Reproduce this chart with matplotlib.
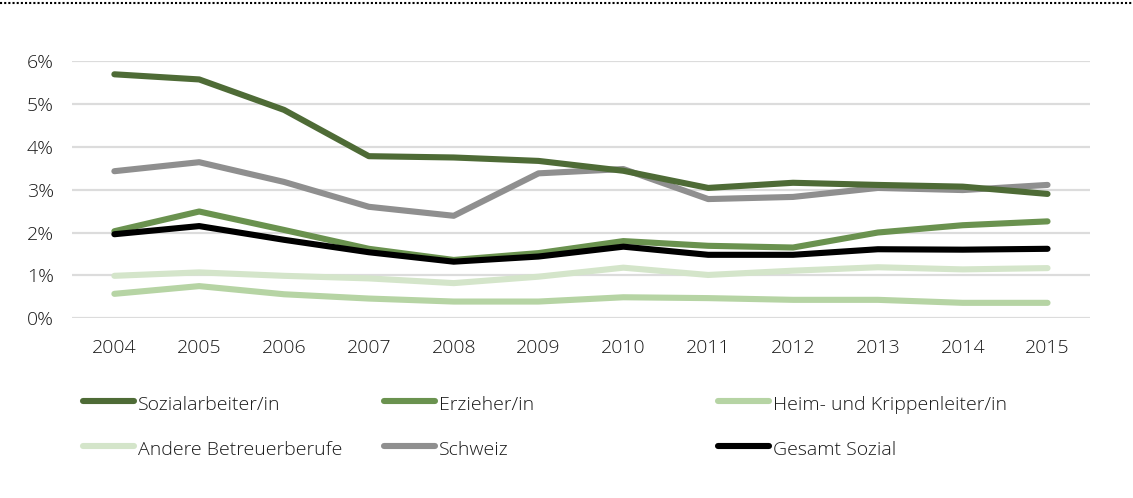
import numpy as np
import matplotlib
matplotlib.use('Agg')
import matplotlib.pyplot as plt
from matplotlib.lines import Line2D
from matplotlib.ticker import PercentFormatter

plt.rcParams['font.family'] = ['Open Sans', 'DejaVu Sans']
plt.rcParams['font.weight'] = 'light'

# Daten (Anteile in %)
years = ['2004', '2005', '2006', '2007', '2008', '2009',
         '2010', '2011', '2012', '2013', '2014', '2015']
sozialarbeiter = [5.69, 5.57, 4.86, 3.78, 3.75, 3.67, 3.44, 3.04, 3.16, 3.11, 3.07, 2.90]
erzieher = [2.03, 2.49, 2.06, 1.62, 1.36, 1.52, 1.80, 1.69, 1.65, 2.00, 2.17, 2.26]
heimleiter = [0.57, 0.75, 0.56, 0.46, 0.39, 0.39, 0.49, 0.47, 0.43, 0.43, 0.36, 0.36]
andere = [0.99, 1.07, 0.99, 0.93, 0.82, 0.97, 1.18, 1.01, 1.11, 1.19, 1.14, 1.17]
schweiz = [3.43, 3.64, 3.18, 2.60, 2.39, 3.38, 3.48, 2.78, 2.83, 3.04, 2.99, 3.11]
gesamt = [1.96, 2.15, 1.83, 1.54, 1.32, 1.44, 1.67, 1.48, 1.48, 1.61, 1.60, 1.62]

names = ['Sozialarbeiter/in', 'Erzieher/in', 'Heim- und Krippenleiter/in',
         'Andere Betreuerberufe', 'Schweiz', 'Gesamt Sozial']
series = [sozialarbeiter, erzieher, heimleiter, andere, schweiz, gesamt]
colors = ['#4e6b36', '#6a924f', '#b6d4a4', '#d4e5ca', '#8f8f8f', '#000000']
# Zeichenreihenfolge (hellste zuerst, Gesamt oben)
order = [3, 2, 4, 1, 0, 5]

fig = plt.figure(figsize=(11.33, 4.98), dpi=100)
ax = fig.add_axes([0.0635, 0.3609, 0.8985, 0.5166])

x = np.arange(len(years))
for i in order:
    ax.plot(x, series[i], color=colors[i], lw=4.4,
            solid_capstyle='round', solid_joinstyle='round', zorder=3)

ax.set_xlim(-0.5, len(years) - 0.5)
ax.set_ylim(0, 6)
ax.set_yticks(np.arange(0, 7, 1))
ax.yaxis.set_major_formatter(PercentFormatter(decimals=0))
ax.set_xticks(x)
ax.set_xticklabels(years)
ax.grid(axis='y', color='#dcdcdc', lw=1.6, zorder=0)
ax.set_axisbelow(True)
for s in ax.spines.values():
    s.set_visible(False)
ax.tick_params(axis='both', length=0, labelsize=14, colors='#1a1a1a')
ax.tick_params(axis='y', pad=13)
ax.tick_params(axis='x', pad=15)

# Legende manuell (3 Spalten, 2 Zeilen)
W, H = 1133, 498
col_x = [83, 384, 718]
row_y = [401, 446]
for k, name in enumerate(names):
    r, c = divmod(k, 3)
    x0 = col_x[c] / W
    y0 = 1 - row_y[r] / H
    fig.add_artist(Line2D([x0, x0 + 51 / W], [y0, y0], color=colors[k], lw=4.4,
                          solid_capstyle='round', transform=fig.transFigure))
    fig.text(x0 + 55 / W, y0 - 4 / H, name, fontsize=14, va='center',
             ha='left', color='#1a1a1a')

# gepunktete Linie oben
fig.add_artist(Line2D([0, 1], [1 - 3 / H, 1 - 3 / H], color='black', lw=1.5,
                      linestyle=(0, (1, 1)), transform=fig.transFigure))

fig.savefig('out.png', dpi=100)
